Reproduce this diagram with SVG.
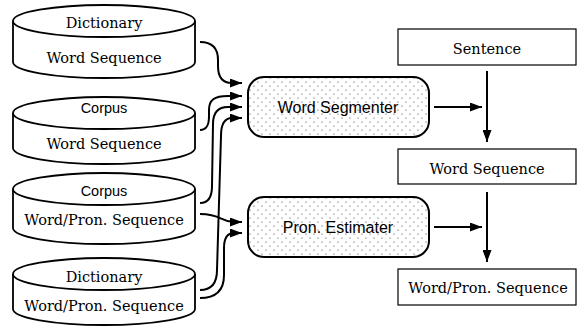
<svg xmlns="http://www.w3.org/2000/svg" width="577" height="327" viewBox="0 0 577 327">
<defs>
<pattern id="dots" width="8" height="8" patternUnits="userSpaceOnUse">
<rect width="8" height="8" fill="#fff"/>
<circle cx="2" cy="2" r="0.6" fill="#333"/>
<circle cx="6" cy="6" r="0.6" fill="#333"/>
</pattern>
<marker id="ah" markerUnits="userSpaceOnUse" markerWidth="13" markerHeight="9" refX="12" refY="4.5" orient="auto">
<path d="M0,0 L12,4.5 L0,9 z" fill="#000"/>
</marker>
</defs>
<style>
.cyl{fill:#fff;stroke:#000;stroke-width:1.8}
.serif{font-family:"DejaVu Serif",serif;font-size:14.5px;fill:#000;text-anchor:middle}
.sans{font-family:"Liberation Sans",Arial,sans-serif;font-size:14.5px;fill:#000;text-anchor:middle}
.proc{fill:url(#dots);stroke:#000;stroke-width:2}
.box{fill:#fff;stroke:#000;stroke-width:1.2}
.lbl{font-family:"Liberation Sans",Arial,sans-serif;font-size:16px;fill:#000;text-anchor:middle}
.con{fill:none;stroke:#000;stroke-width:2;marker-end:url(#ah)}
</style>
<g id="cyl1">
<path class="cyl" d="M13,21 A91,16 0 0 1 195,21 L195,62 A91,16 0 0 1 13,62 Z"/>
<path class="cyl" d="M13,21 A91,16 0 0 0 195,21" fill="none"/>
<text class="serif" x="104" y="28">Dictionary</text>
<text class="serif" x="104" y="63">Word Sequence</text>
</g>
<g id="cyl2">
<path class="cyl" d="M13,113 A91,16 0 0 1 195,113 L195,148 A91,16 0 0 1 13,148 Z"/>
<path class="cyl" d="M13,113 A91,16 0 0 0 195,113" fill="none"/>
<text class="sans" x="104" y="113">Corpus</text>
<text class="serif" x="104" y="149">Word Sequence</text>
</g>
<g id="cyl3">
<path class="cyl" d="M13,189 A91,16 0 0 1 195,189 L195,228 A91,16 0 0 1 13,228 Z"/>
<path class="cyl" d="M13,189 A91,16 0 0 0 195,189" fill="none"/>
<text class="sans" x="104" y="196">Corpus</text>
<text class="serif" x="104" y="225">Word/Pron. Sequence</text>
</g>
<g id="cyl4">
<path class="cyl" d="M13,274 A91,16 0 0 1 195,274 L195,309 A91,16 0 0 1 13,309 Z"/>
<path class="cyl" d="M13,274 A91,16 0 0 0 195,274" fill="none"/>
<text class="serif" x="104" y="282">Dictionary</text>
<text class="serif" x="104" y="311">Word/Pron. Sequence</text>
</g>
<g id="seg">
<rect class="proc" x="248" y="77" width="181" height="60" rx="16" ry="16"/>
<text class="lbl" x="338" y="113">Word Segmenter</text>
</g>
<g id="est">
<rect class="proc" x="248" y="197" width="181" height="60" rx="16" ry="16"/>
<text class="lbl" x="338" y="233">Pron. Estimater</text>
</g>
<g id="sentence">
<rect class="box" x="398" y="29" width="178" height="36"/>
<text class="serif" x="487" y="54">Sentence</text>
</g>
<g id="wordseq">
<rect class="box" x="398" y="149" width="178" height="35"/>
<text class="serif" x="487" y="174">Word Sequence</text>
</g>
<g id="wpseq">
<rect class="box" x="398" y="269" width="178" height="36"/>
<text class="serif" x="488" y="293">Word/Pron. Sequence</text>
</g>
<g id="connectors">
<path class="con" d="M200,42 C214,42 218,50 218,60 L218,66 C218,77 222,83 232,83 L242,83"/>
<path class="con" d="M200,130 C207,130 209,125 209,116 L209,110 C209,100 214,96 228,96 L242,96"/>
<path class="con" d="M200,203 C209,203 212,196 212,186 L213,124 C213,113 218,107 228,107 L242,107"/>
<path class="con" d="M200,290 C212,290 217,283 217,270 L221,136 C221,124 224,118 232,118 L242,118"/>
<path class="con" d="M200,214 C222,214 220,222 234,222 L242,222"/>
<path class="con" d="M200,298 C216,298 224,290 224,275 L224,248 C224,238 228,233 234,233 L242,233"/>
<path class="con" d="M434,107 L482,107"/>
<path class="con" d="M434,227 L482,227"/>
<path class="con" d="M487,71 L487,142"/>
<path class="con" d="M487,192 L487,262"/>
</g>
</svg>
